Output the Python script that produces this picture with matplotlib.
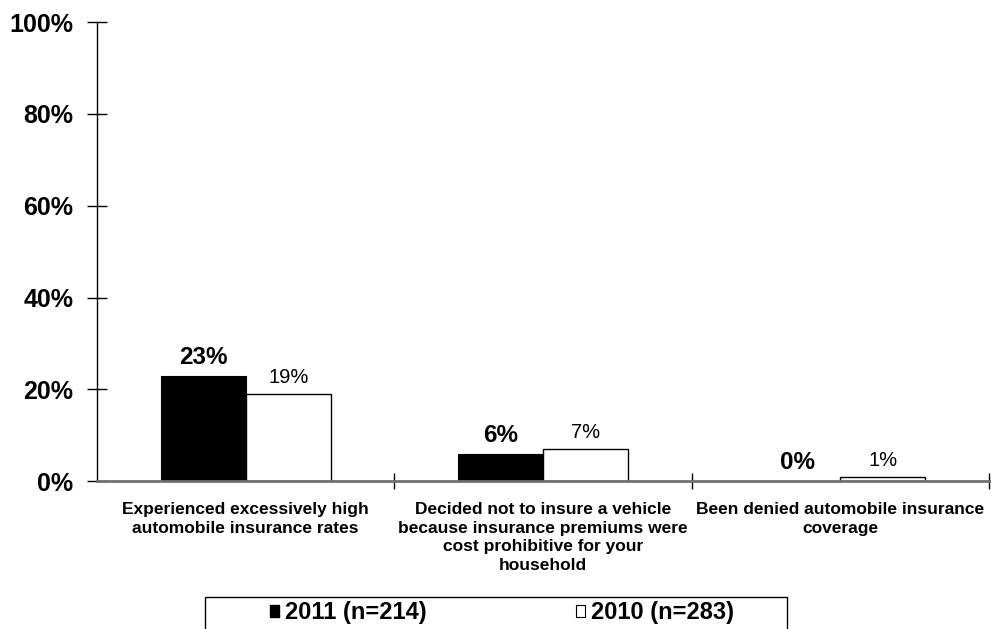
import numpy as np
import matplotlib.pyplot as plt
from matplotlib.patches import Rectangle

# Chart data
categories = [
    "Experienced excessively high\nautomobile insurance rates",
    "Decided not to insure a vehicle\nbecause insurance premiums were\ncost prohibitive for your\nhousehold",
    "Been denied automobile insurance\ncoverage",
]
values_2011 = [23, 6, 0]
values_2010 = [19, 7, 1]
series_names = ["2011 (n=214)", "2010 (n=283)"]
y_ticks = [0, 20, 40, 60, 80, 100]

plt.rcParams['font.family'] = ['Liberation Sans', 'DejaVu Sans']

fig = plt.figure(figsize=(9.92, 6.29), dpi=100)
ax = fig.add_axes([0.0978, 0.235, 0.8992, 0.730])

x = np.arange(len(categories))
w = 0.286
bars_a = ax.bar(x - w / 2, values_2011, w, color='black', edgecolor='black', linewidth=0.8)
bars_b = ax.bar(x + w / 2, values_2010, w, color='white', edgecolor='black', linewidth=1.0)

# value labels
for b, v in zip(bars_a, values_2011):
    ax.annotate(f"{v}%", (b.get_x() + b.get_width() / 2, v), xytext=(0, 5),
                textcoords='offset points', ha='center', va='bottom',
                fontsize=17.5, fontweight='bold')
for b, v in zip(bars_b, values_2010):
    ax.annotate(f"{v}%", (b.get_x() + b.get_width() / 2, v), xytext=(0, 5),
                textcoords='offset points', ha='center', va='bottom',
                fontsize=14.5)

ax.set_xlim(-0.5, len(categories) - 0.5)
ax.set_ylim(0, 100)

ax.set_yticks(y_ticks)
ax.set_yticklabels([f"{t}%" for t in y_ticks], fontsize=18, fontweight='bold')
ax.tick_params(axis='y', direction='inout', length=14, width=1, pad=10)

# category boundary ticks (major) and labels (minor)
ax.set_xticks(np.arange(len(categories)) + 0.5)
ax.set_xticklabels([])
ax.set_xticks(x, minor=True)
ax.set_xticklabels(categories, minor=True, fontsize=12.5, fontweight='bold', linespacing=1.3)
ax.tick_params(axis='x', which='major', direction='inout', length=12, width=1)
ax.tick_params(axis='x', which='minor', length=0, pad=15)

for s in ['top', 'right']:
    ax.spines[s].set_visible(False)
ax.spines['left'].set_linewidth(1)
ax.spines['bottom'].set_color('#707070')
ax.spines['bottom'].set_linewidth(2)

# legend frame (clipped at figure bottom)
fig.patches.append(Rectangle((0.2067, -0.05), 0.5867, 0.1009, transform=fig.transFigure,
                             facecolor='white', edgecolor='black', linewidth=1))
handles = [Rectangle((0, 0), 1, 1, facecolor='black', edgecolor='black'),
           Rectangle((0, 0), 1, 1, facecolor='white', edgecolor='black', linewidth=0.8)]
fig.legend(handles, series_names, loc='center', bbox_to_anchor=(0.506, 0.026), ncol=2,
           frameon=False, prop={'size': 17, 'weight': 'bold'},
           handlelength=0.38, handleheight=0.38, handletextpad=0.25, columnspacing=6.3)

fig.savefig("out.png", dpi=100)
